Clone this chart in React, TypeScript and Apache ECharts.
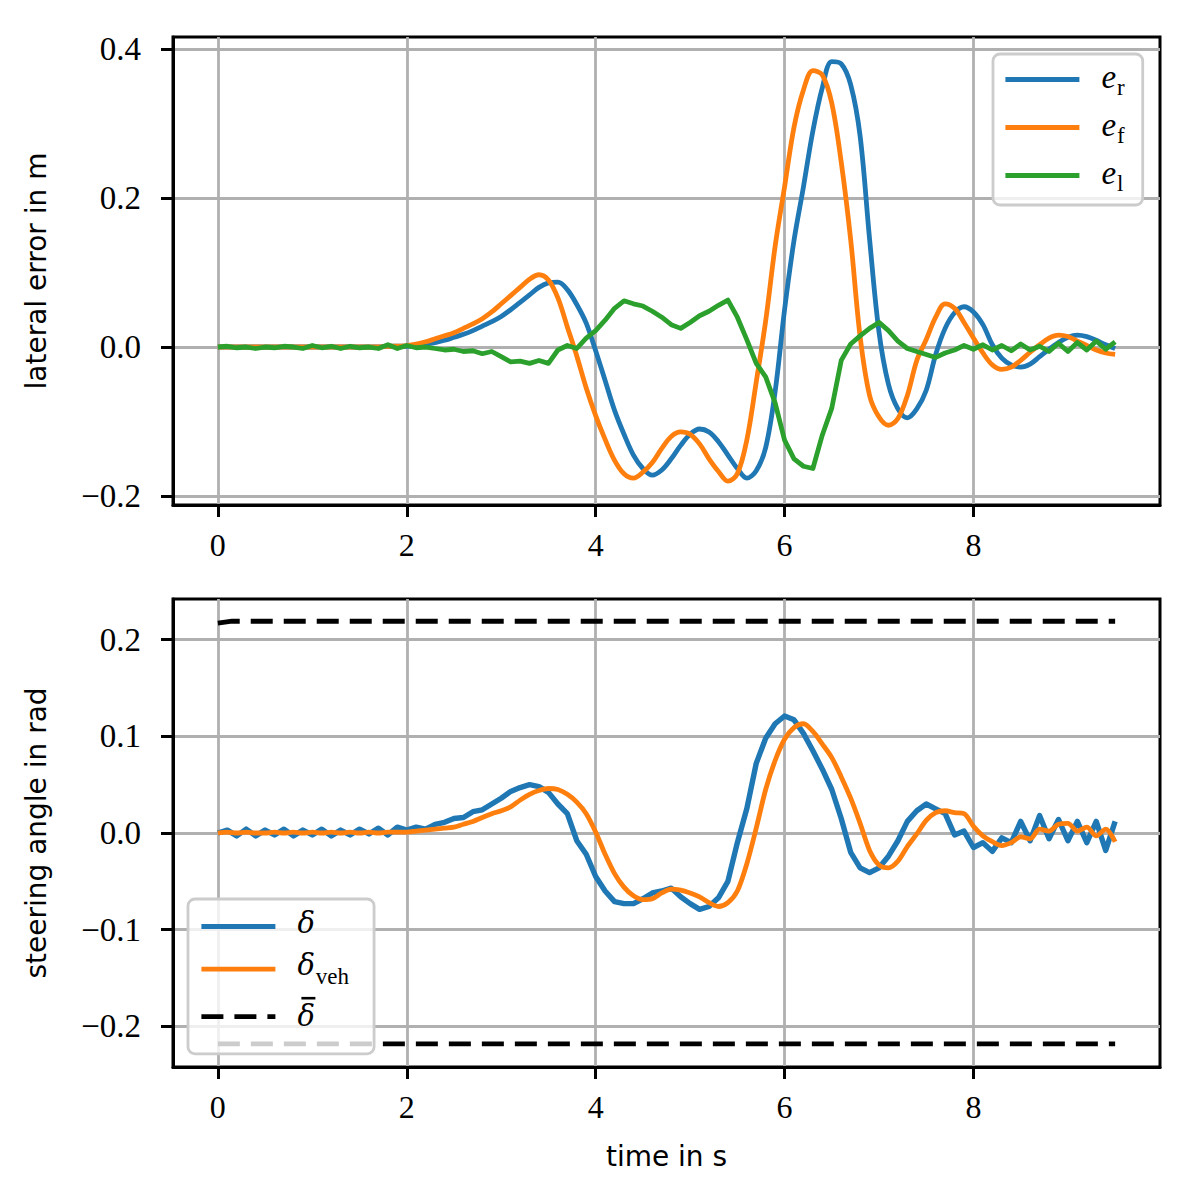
import React, { useEffect, useRef } from "react";
import * as echarts from "echarts";

// sample times (s)
const time = [
  0.0, 0.1, 0.2, 0.3, 0.4, 0.5, 0.6, 0.7, 0.8, 0.9,
  1.0, 1.1, 1.2, 1.3, 1.4, 1.5, 1.6, 1.7, 1.8, 1.9,
  2.0, 2.1, 2.2, 2.3, 2.4, 2.5, 2.6, 2.7, 2.8, 2.9,
  3.0, 3.1, 3.2, 3.3, 3.4, 3.5, 3.6, 3.7, 3.8, 3.9,
  4.0, 4.1, 4.2, 4.3, 4.4, 4.5, 4.6, 4.7, 4.8, 4.9,
  5.0, 5.1, 5.2, 5.3, 5.4, 5.5, 5.6, 5.7, 5.8, 5.9,
  6.0, 6.1, 6.2, 6.3, 6.4, 6.5, 6.6, 6.7, 6.8, 6.9,
  7.0, 7.1, 7.2, 7.3, 7.4, 7.5, 7.6, 7.7, 7.8, 7.9,
  8.0, 8.1, 8.2, 8.3, 8.4, 8.5, 8.6, 8.7, 8.8, 8.9,
  9.0, 9.1, 9.2, 9.3, 9.4, 9.5,
];

// lateral errors (m)
const eR = [
  0, 0, 0, 0, 0, 0, 0, 0, 0, 0,
  0, 0, 0, 0, 0, 0, 0, 0, 0.001, 0.001,
  0.001, 0.002, 0.004, 0.006, 0.009, 0.013, 0.017, 0.022, 0.028, 0.034,
  0.041, 0.05, 0.06, 0.07, 0.08, 0.086, 0.087, 0.077, 0.057, 0.032,
  -0.005, -0.045, -0.085, -0.117, -0.145, -0.163, -0.172, -0.165, -0.15, -0.132,
  -0.117, -0.11, -0.114, -0.127, -0.145, -0.163, -0.176, -0.166, -0.135, -0.06,
  0.05, 0.143, 0.215, 0.29, 0.348, 0.383, 0.38, 0.352, 0.283, 0.145,
  0.02, -0.05, -0.083, -0.095, -0.083, -0.058, -0.01, 0.025, 0.046, 0.054,
  0.047, 0.03, 0.003, -0.015, -0.024, -0.027, -0.023, -0.013, -0.003, 0.006,
  0.013, 0.016, 0.014, 0.009, 0.003, -0.002,
];

const eF = [
  0, 0, 0, 0, 0, 0, 0, 0, 0, 0,
  0, 0, 0, 0, 0, 0, 0, 0, 0.001, 0.001,
  0.002, 0.004, 0.007, 0.011, 0.015, 0.019, 0.025, 0.031, 0.038, 0.047,
  0.058, 0.069, 0.08, 0.091, 0.097, 0.09, 0.066, 0.027, -0.012, -0.055,
  -0.092, -0.124, -0.152, -0.17, -0.176, -0.168, -0.155, -0.136, -0.12, -0.114,
  -0.117, -0.13, -0.15, -0.167, -0.18, -0.17, -0.125, -0.047, 0.035, 0.135,
  0.215, 0.295, 0.345, 0.371, 0.365, 0.327, 0.248, 0.144, 0.014, -0.065,
  -0.094, -0.105, -0.096, -0.065, -0.018, 0.01, 0.04, 0.058, 0.052, 0.033,
  0.012, -0.008, -0.024, -0.03, -0.027, -0.018, -0.007, 0.003, 0.012, 0.016,
  0.014, 0.008, 0.002, -0.004, -0.008, -0.01,
];

const eL = [
  0.0, 0.001, -0.001, 0.0, -0.002, 0.0, -0.001, 0.001, 0.0, -0.002,
  0.002, -0.001, 0.001, -0.002, 0.001, -0.001, 0.0, -0.002, 0.003, -0.002,
  0.002, -0.001, 0.0, -0.002, -0.004, -0.003, -0.006, -0.005, -0.009, -0.006,
  -0.013, -0.02, -0.019, -0.022, -0.018, -0.022, -0.004, 0.002, -0.002, 0.012,
  0.022, 0.036, 0.052, 0.062, 0.058, 0.055, 0.048, 0.04, 0.03, 0.025,
  0.033, 0.042, 0.048, 0.056, 0.063, 0.04, 0.01, -0.022, -0.04, -0.075,
  -0.125, -0.15, -0.16, -0.163, -0.118, -0.082, -0.018, 0.004, 0.015, 0.025,
  0.033, 0.022, 0.008, -0.002, -0.006, -0.01, -0.014, -0.008, -0.004, 0.002,
  -0.003, 0.003, -0.004, 0.002, -0.005, 0.004, -0.004, 0.001, -0.006, 0.005,
  -0.006, 0.006, -0.004, 0.008, -0.003, 0.007,
];

// steering angles (rad)
const delta = [
  0.0, 0.003, -0.003, 0.004, -0.003, 0.003, -0.002, 0.004, -0.003, 0.003,
  -0.002, 0.004, -0.003, 0.003, -0.002, 0.004, -0.001, 0.005, -0.002, 0.006,
  0.003, 0.006, 0.004, 0.009, 0.011, 0.015, 0.016, 0.022, 0.024, 0.03,
  0.036, 0.043, 0.047, 0.05, 0.048, 0.042, 0.03, 0.02, -0.008, -0.022,
  -0.045, -0.06, -0.071, -0.073, -0.073, -0.068, -0.062, -0.06, -0.057, -0.066,
  -0.073, -0.079, -0.076, -0.067, -0.05, -0.01, 0.025, 0.072, 0.098, 0.113,
  0.121, 0.117, 0.103, 0.085, 0.066, 0.045, 0.015, -0.02, -0.036, -0.041,
  -0.036, -0.024, -0.008, 0.012, 0.023, 0.03, 0.025, 0.02, -0.002, 0.002,
  -0.015, -0.01, -0.019, -0.005, -0.01, 0.012, -0.008, 0.018, -0.006, 0.014,
  -0.008, 0.012, -0.01, 0.012, -0.018, 0.012,
];

const deltaVeh = [
  0.0, 0.001, 0.0, 0.001, 0.0, 0.0, 0.001, 0.0, 0.001, 0.0,
  0.001, 0.0, 0.001, 0.0, 0.001, 0.0, 0.001, 0.0, 0.001, 0.001,
  0.001, 0.002, 0.003, 0.004, 0.005, 0.006, 0.009, 0.012, 0.016, 0.02,
  0.023, 0.027, 0.034, 0.04, 0.044, 0.046, 0.045, 0.04, 0.032, 0.02,
  0.001, -0.022, -0.042, -0.056, -0.065, -0.069, -0.068, -0.062, -0.058, -0.059,
  -0.062, -0.066, -0.072, -0.076, -0.072, -0.06, -0.032, 0.005, 0.045, 0.075,
  0.097, 0.109, 0.113, 0.105, 0.092, 0.078, 0.058, 0.036, 0.01, -0.018,
  -0.033, -0.036, -0.029, -0.014, -0.001, 0.013, 0.021, 0.023, 0.021, 0.02,
  0.007, -0.003, -0.009, -0.013, -0.01, -0.004, -0.006, 0.004, 0.002, 0.009,
  0.01, 0.002, 0.006, -0.003, 0.004, -0.009,
];

const boundTime = [0.0, 0.15, 9.5];
const deltaMax = [0.217, 0.219, 0.219];
const deltaMin = [-0.218, -0.218, -0.218];

// axes
const xTicks = [0, 2, 4, 6, 8];
const yTopTicks = [-0.2, 0.0, 0.2, 0.4];
const yBottomTicks = [-0.2, -0.1, 0.0, 0.1, 0.2];

const C_BLUE = "#1f77b4";
const C_ORANGE = "#ff7f0e";
const C_GREEN = "#2ca02c";

const SERIF = "'Liberation Serif', 'DejaVu Serif', serif";
const DVSERIF = "'DejaVu Serif', serif";
const SANS = "'DejaVu Sans', sans-serif";

const LW = 4.8;
const GRID_W = 2.8;
const SPINE_W = 3;

const pairs = (xs: number[], ys: number[]) => xs.map((x, i) => [x, ys[i]]);

const fmtY = (v: number) => (v < -1e-9 ? "\u2212" + (-v).toFixed(1) : Math.abs(v).toFixed(1));

const legendText: Record<string, string> = {
  e_r: "{i|e}{s|r}",
  e_f: "{i|e}{s|f}",
  e_l: "{i|e}{s|l}",
  "δ": "{d|δ}",
  "δ_veh": "{d|δ}{s|veh}",
  "δ̄": "{sp| }{bar| }\n{d|δ}",
};

const richStyle = {
  i: {
    fontFamily: SERIF,
    fontStyle: "italic",
    fontSize: 33,
    color: "#000",
    verticalAlign: "bottom",
    padding: [0, 1, 6, 0],
  },
  d: {
    fontFamily: DVSERIF,
    fontStyle: "italic",
    fontSize: 29,
    color: "#000",
    verticalAlign: "bottom",
    padding: [0, 1, 8, 0],
  },
  s: {
    fontFamily: SERIF,
    fontSize: 23,
    color: "#000",
    verticalAlign: "bottom",
  },
  sp: {
    fontSize: 2,
    width: 4,
    height: 3,
    lineHeight: 7,
  },
  bar: {
    fontSize: 2,
    width: 14,
    height: 2.6,
    lineHeight: 7,
    backgroundColor: "#000",
  },
};

function makeX(gridIndex: number, withName: boolean) {
  return {
    type: "value",
    gridIndex,
    min: -0.475,
    max: 9.975,
    splitNumber: 5,
    name: withName ? "time in s" : "",
    nameLocation: "middle",
    nameGap: 75,
    nameTextStyle: { fontFamily: SANS, fontSize: 28, color: "#000" },
    axisLine: { show: true, onZero: false, lineStyle: { color: "#000", width: SPINE_W } },
    axisTick: { show: true, length: 12, customValues: xTicks, lineStyle: { color: "#000", width: SPINE_W } },
    axisLabel: {
      customValues: xTicks,
      margin: 24,
      fontFamily: SERIF,
      fontSize: 32,
      color: "#000",
      formatter: (v: number) => String(Math.round(v)),
    },
    splitLine: { show: true, lineStyle: { color: "#b0b0b0", width: GRID_W } },
  };
}

function makeY(gridIndex: number, min: number, max: number, split: number, ticks: number[], name: string) {
  return {
    type: "value",
    gridIndex,
    min,
    max,
    splitNumber: split,
    name,
    nameLocation: "middle",
    nameRotate: 90,
    nameGap: 123,
    nameTextStyle: { fontFamily: SANS, fontSize: 28, color: "#000" },
    axisLine: { show: true, onZero: false, lineStyle: { color: "#000", width: SPINE_W } },
    axisTick: { show: true, length: 12, customValues: ticks, lineStyle: { color: "#000", width: SPINE_W } },
    axisLabel: {
      customValues: ticks,
      margin: 32,
      fontFamily: SERIF,
      fontSize: 33,
      color: "#000",
      formatter: fmtY,
    },
    splitLine: { show: true, lineStyle: { color: "#b0b0b0", width: GRID_W } },
  };
}

function lineSeries(name: string, xi: number, data: number[][], color: string, width: number, smooth: number, dashed = false) {
  return {
    type: "line",
    name,
    xAxisIndex: xi,
    yAxisIndex: xi,
    data,
    symbol: "none",
    showSymbol: false,
    smooth,
    clip: true,
    lineStyle: { color, width, type: dashed ? [22, 11] : "solid", cap: "butt", join: "round" },
    itemStyle: { color },
    emphasis: { disabled: true },
  };
}

const legendBase = {
  orient: "vertical",
  itemWidth: 74,
  itemHeight: 38,
  itemGap: 9,
  backgroundColor: "rgba(255,255,255,0.8)",
  borderColor: "#cccccc",
  borderWidth: 2.8,
  borderRadius: 7,
  selectedMode: false,
  itemStyle: { opacity: 0 },
  lineStyle: { width: LW },
  formatter: (n: string) => legendText[n] ?? n,
  textStyle: { padding: [0, 0, 0, 17], rich: richStyle },
};

export default function App() {
  const ref = useRef<HTMLDivElement>(null);

  useEffect(() => {
    document.body.style.margin = "0";
    if (!ref.current) return;
    const chart = echarts.init(ref.current, undefined, { renderer: "svg" });
    const option: any = {
      animation: false,
      backgroundColor: "#ffffff",
      grid: [
        { left: 173, top: 37, width: 987, height: 468, show: true, borderColor: "#000", borderWidth: SPINE_W, containLabel: false, outerBoundsMode: "none" },
        { left: 173, top: 599, width: 987, height: 468, show: true, borderColor: "#000", borderWidth: SPINE_W, containLabel: false, outerBoundsMode: "none" },
      ],
      xAxis: [makeX(0, false), makeX(1, true)],
      yAxis: [
        makeY(0, -0.212, 0.416, 3, yTopTicks, "lateral error in m"),
        makeY(1, -0.242, 0.242, 5, yBottomTicks, "steering angle in rad"),
      ],
      legend: [
        { ...legendBase, data: ["e_r", "e_f", "e_l"], left: 993, top: 54, padding: [6, 18, 10, 10] },
        { ...legendBase, data: ["δ", "δ_veh", "δ̄"], left: 188, top: 899, padding: [9, 25, 22, 11] },
      ],
      series: [
        lineSeries("e_r", 0, pairs(time, eR), C_BLUE, LW, 0.35),
        lineSeries("e_f", 0, pairs(time, eF), C_ORANGE, LW, 0.35),
        lineSeries("e_l", 0, pairs(time, eL), C_GREEN, LW, 0),
        lineSeries("δ", 1, pairs(time, delta), C_BLUE, 5.4, 0),
        lineSeries("δ_veh", 1, pairs(time, deltaVeh), C_ORANGE, LW, 0.3),
        lineSeries("δ̄", 1, pairs(boundTime, deltaMax), "#000000", LW, 0, true),
        lineSeries("δ̄", 1, pairs(boundTime, deltaMin), "#000000", LW, 0, true),
      ],
    };
    chart.setOption(option);
    return () => chart.dispose();
  }, []);

  return <div ref={ref} style={{ width: 1196, height: 1200 }} />;
}
